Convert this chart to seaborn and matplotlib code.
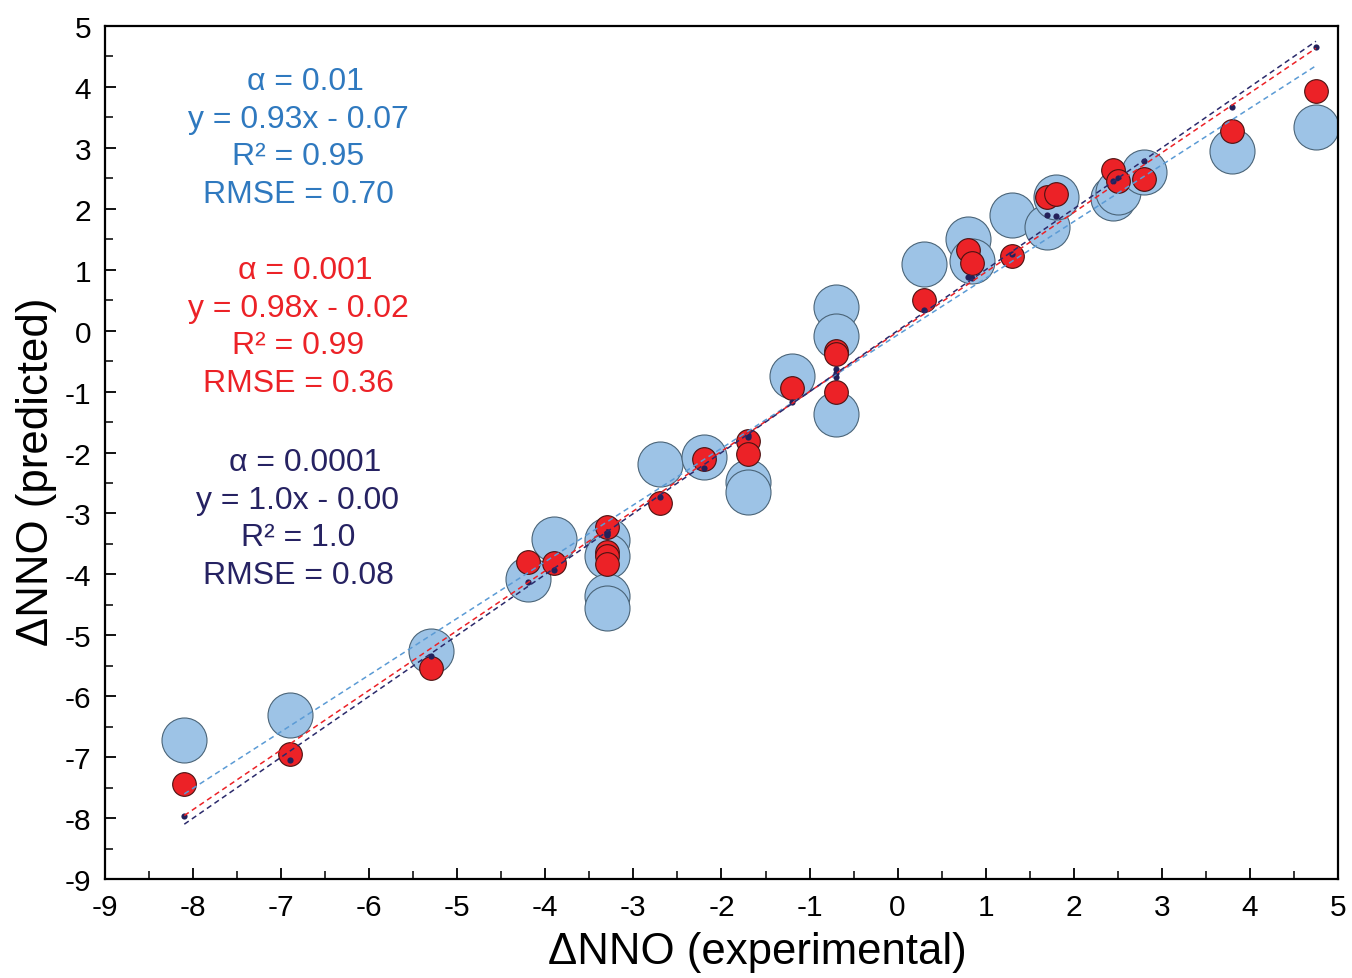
import numpy as np
import pandas as pd
import matplotlib
matplotlib.use("Agg")
import matplotlib.pyplot as plt
from matplotlib.ticker import MultipleLocator
import seaborn as sns

# Experimental ΔNNO values
experimental = [-8.1, -6.9, -5.3, -4.2, -3.9, -3.3, -3.3, -3.3, -3.3, -2.7,
                -2.2, -1.7, -1.7, -1.2, -0.7, -0.7, -0.7, 0.3, 0.8, 0.85,
                1.3, 1.7, 1.8, 2.45, 2.5, 2.8, 3.8, 4.75]

# Predicted ΔNNO for each significance level
pred_a01 = [-6.72, -6.31, -5.25, -4.08, -3.42, -3.44, -3.70, -4.36, -4.56, -2.19,
            -2.08, -2.49, -2.64, -0.75, 0.39, -0.09, -1.37, 1.09, 1.50, 1.14,
            1.90, 1.70, 2.19, 2.18, 2.27, 2.60, 2.95, 3.34]
pred_a001 = [-7.44, -6.95, -5.53, -3.80, -3.82, -3.23, -3.64, -3.70, -3.83, -2.83,
             -2.11, -1.81, -2.03, -0.94, -0.34, -0.39, -1.01, 0.50, 1.32, 1.11,
             1.22, 2.19, 2.24, 2.64, 2.45, 2.49, 3.28, 3.93]
pred_a0001 = [-7.96, -7.04, -5.34, -4.13, -3.92, -3.31, -3.35, -3.30, -3.33, -2.73,
              -2.26, -1.75, -1.72, -1.17, -0.63, -0.70, -0.76, 0.34, 0.88, 0.86,
              1.26, 1.90, 1.88, 2.45, 2.50, 2.78, 3.67, 4.66]

# Fit statistics per series: alpha, slope, intercept, R², RMSE
alphas = ["0.01", "0.001", "0.0001"]
slopes = [0.93, 0.98, 1.0]
intercepts = [-0.07, -0.02, -0.00]
slope_text = ["0.93", "0.98", "1.0"]
intercept_text = ["0.07", "0.02", "0.00"]
r2_text = ["0.95", "0.99", "1.0"]
rmse_text = ["0.70", "0.36", "0.08"]

x_ticks = list(range(-9, 6))
y_ticks = list(range(-9, 6))

FONT = "Liberation Sans"
sns.set_theme(style="white")
plt.rcParams["font.family"] = [FONT, "DejaVu Sans"]
plt.rcParams["axes.unicode_minus"] = False

fill_colors = ["#9dc3e6", "#ec2227", "#24215a"]
edge_colors = ["#4a6478", "#4a1212", "#24215a"]
line_colors = ["#5b9bd5", "#ec2227", "#2b2a6b"]
text_colors = ["#2f79bf", "#ec2227", "#262262"]
sizes = [1050, 290, 20]

fig = plt.figure(figsize=(13.52, 9.79), dpi=100)
ax = fig.add_axes([0.0777, 0.1011, 0.9119, 0.8713])

series = [pred_a01, pred_a001, pred_a0001]
for i, pred in enumerate(series):
    df = pd.DataFrame({"exp": experimental, "pred": pred})
    sns.scatterplot(data=df, x="exp", y="pred", ax=ax, s=sizes[i],
                    color=fill_colors[i], edgecolor=edge_colors[i],
                    linewidth=0.8 if i < 2 else 0, zorder=2 + i, legend=False)

# Regression lines over the experimental range
x_line = np.array([min(experimental), max(experimental)])
for i in range(3):
    line_df = pd.DataFrame({"x": x_line, "y": slopes[i] * x_line + intercepts[i]})
    sns.lineplot(data=line_df, x="x", y="y", ax=ax, color=line_colors[i],
                 linewidth=1.1, linestyle=(0, (3.5, 2.5)), zorder=6)

# Fit statistics blocks
block_top = [82, 271, 463]
for i in range(3):
    lines = [f"α = {alphas[i]}",
             f"y = {slope_text[i]}x - {intercept_text[i]}",
             f"R² = {r2_text[i]}",
             f"RMSE = {rmse_text[i]}"]
    for j, txt in enumerate(lines):
        ypix = block_top[i] + j * 37.7
        xpix = 298 + (7 if j == 0 else 0)
        fig.text(xpix / 1352, 1 - ypix / 979, txt, ha="center", va="center",
                 fontsize=23, color=text_colors[i], family=[FONT, "DejaVu Sans"])

ax.set_xlim(-9, 5)
ax.set_ylim(-9, 5)
ax.set_xticks(x_ticks)
ax.set_yticks(y_ticks)
ax.xaxis.set_minor_locator(MultipleLocator(0.5))
ax.yaxis.set_minor_locator(MultipleLocator(0.5))
ax.tick_params(which="major", direction="in", length=8, width=1.3,
               labelsize=21.5, color="black", labelcolor="black",
               bottom=True, left=True, top=False, right=False, pad=10)
ax.tick_params(which="minor", direction="in", length=5.5, width=1.3,
               bottom=True, left=True, top=False, right=False)
for sp in ax.spines.values():
    sp.set_visible(True)
    sp.set_color("black")
    sp.set_linewidth(1.6)

ax.set_xlabel("ΔNNO (experimental)", fontsize=31.5, color="black")
ax.set_ylabel("ΔNNO (predicted)", fontsize=31.5, color="black")
ax.xaxis.label.set_va("center")
ax.yaxis.label.set_va("center")
ax.xaxis.set_label_coords((757 - 105) / 1233, (880 - 952) / 853)
ax.yaxis.set_label_coords((36 - 105) / 1233, (880 - 472) / 853)
ax.grid(False)
ax.set_facecolor("white")
fig.patch.set_facecolor("white")

fig.savefig("out.png", dpi=100, facecolor="white")
